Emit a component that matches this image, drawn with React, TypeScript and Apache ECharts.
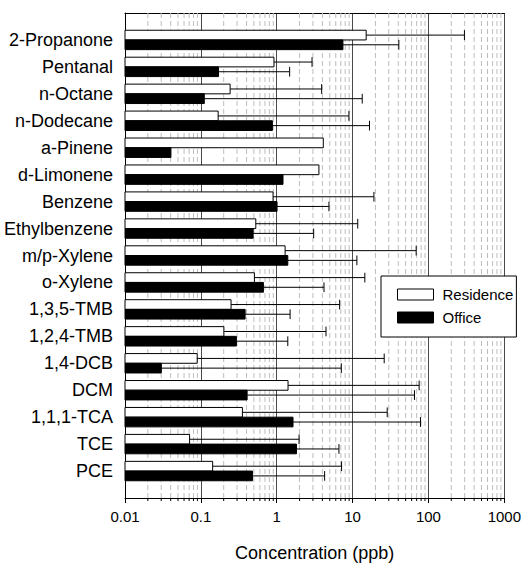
import React, { useEffect, useRef } from "react";
import * as echarts from "echarts";

const categories = [
  "2-Propanone", "Pentanal", "n-Octane", "n-Dodecane", "a-Pinene", "d-Limonene",
  "Benzene", "Ethylbenzene", "m/p-Xylene", "o-Xylene", "1,3,5-TMB", "1,2,4-TMB",
  "1,4-DCB", "DCM", "1,1,1-TCA", "TCE", "PCE",
];
const seriesNames = ["Residence", "Office"];
const residence = [15.1, 0.92, 0.243, 0.169, 4.11, 3.6, 0.895, 0.53, 1.29, 0.508, 0.25, 0.201, 0.0895, 1.41, 0.353, 0.071, 0.143];
const residenceUpper = [298, 2.92, 3.91, 8.95, null, null, 19.1, 11.7, 68.9, 14.5, 6.75, 4.46, 26.1, 75.4, 28.6, 1.97, 7.16];
const office = [7.46, 0.171, 0.111, 0.877, 0.0403, 1.21, 1.01, 0.489, 1.4, 0.668, 0.383, 0.294, 0.0301, 0.407, 1.64, 1.82, 0.479];
const officeUpper = [40.7, 1.48, 13.4, 16.7, null, null, 4.88, 3.07, 11.4, 4.2, 1.5, 1.4, 7.1, 65.4, 78.5, 6.61, 4.28];
const xTickValues = [0.01, 0.1, 1, 10, 100, 1000];
const xTickLabels = ["0.01", "0.1", "1", "10", "100", "1000"];
const minorSteps = [2, 3, 4, 5, 6, 7, 8, 9];
const xAxisTitle = "Concentration (ppb)";

const FONT = "'Liberation Sans', Arial, Helvetica, sans-serif";

export default function App() {
  const ref = useRef<HTMLDivElement>(null);

  useEffect(() => {
    document.body.style.margin = "0";
    if (!ref.current) return;
    const chart = echarts.init(ref.current, null, { renderer: "svg" });

    const yMin = -1;
    const yMax = categories.length;

    const minorValues: number[][] = [];
    for (let d = 0; d < xTickValues.length - 1; d++) {
      for (const m of minorSteps) minorValues.push([xTickValues[d] * m, 0]);
    }

    const barData = (vals: number[], ups: (number | null)[]) =>
      vals.map((v, i) => [i, v, ups[i] == null ? NaN : ups[i]]);

    const makeBarRender = (seriesIdx: number, fill: string) =>
      (params: any, api: any) => {
        const idx = api.value(0);
        const val = api.value(1);
        const up = api.value(2);
        const band = api.size([0, 1])[1];
        const h = band * 0.36;
        const c = api.coord([val, idx]);
        const s = api.coord([xTickValues[0], idx]);
        const cy = c[1] + (seriesIdx === 0 ? -h / 2 : h / 2);
        const children: any[] = [
          {
            type: "rect",
            shape: { x: s[0], y: cy - h / 2, width: c[0] - s[0], height: h },
            style: { fill, stroke: "#000", lineWidth: 1 },
          },
        ];
        if (!isNaN(up)) {
          const u = api.coord([up, idx]);
          children.push({
            type: "line",
            shape: { x1: c[0], y1: cy, x2: u[0], y2: cy },
            style: { stroke: "#000", lineWidth: 1 },
          });
          children.push({
            type: "line",
            shape: { x1: u[0], y1: cy - h / 2, x2: u[0], y2: cy + h / 2 },
            style: { stroke: "#000", lineWidth: 1 },
          });
        }
        return { type: "group", children };
      };

    const option: any = {
      animation: false,
      textStyle: { fontFamily: FONT, color: "#000" },
      grid: { left: 125, right: 19, top: 13, bottom: 62, containLabel: false },
      legend: {
        orient: "vertical",
        left: 381,
        top: 276,
        icon: "rect",
        itemWidth: 36,
        itemHeight: 11,
        itemGap: 8,
        padding: [11, 3, 12, 16],
        borderColor: "#000",
        borderWidth: 1,
        backgroundColor: "#fff",
        selectedMode: false,
        textStyle: { fontFamily: FONT, fontSize: 15, color: "#000", padding: [0, 0, 0, 4] },
        data: [
          { name: seriesNames[0], itemStyle: { color: "#fff", borderColor: "#000", borderWidth: 1 } },
          { name: seriesNames[1], itemStyle: { color: "#000", borderColor: "#000", borderWidth: 1 } },
        ],
      },
      xAxis: [
        {
          type: "log",
          logBase: 10,
          min: xTickValues[0],
          max: xTickValues[xTickValues.length - 1],
          name: xAxisTitle,
          nameLocation: "middle",
          nameGap: 46,
          nameTextStyle: { fontFamily: FONT, fontSize: 18, color: "#000" },
          axisLine: { show: true, onZero: false, lineStyle: { color: "#000", width: 1 } },
          axisTick: { show: true, length: 5, lineStyle: { color: "#000" } },
          axisLabel: {
            fontFamily: FONT,
            fontSize: 15,
            color: "#000",
            margin: 11,
            formatter: (v: number) => {
              let best = 0;
              for (let i = 0; i < xTickValues.length; i++) {
                if (Math.abs(Math.log10(v) - Math.log10(xTickValues[i])) < Math.abs(Math.log10(v) - Math.log10(xTickValues[best]))) best = i;
              }
              return xTickLabels[best];
            },
          },
          splitLine: { show: true, lineStyle: { color: "#4a4a4a", width: 1 } },
        },
        {
          type: "log",
          logBase: 10,
          position: "top",
          min: xTickValues[0],
          max: xTickValues[xTickValues.length - 1],
          axisLine: { show: true, onZero: false, lineStyle: { color: "#000", width: 1 } },
          axisTick: { show: false },
          axisLabel: { show: false },
          splitLine: { show: false },
        },
      ],
      yAxis: {
        type: "value",
        inverse: true,
        min: yMin,
        max: yMax,
        interval: 1,
        axisLine: { show: true, onZero: false, lineStyle: { color: "#000", width: 1 } },
        axisTick: { show: false },
        splitLine: { show: false },
        axisLabel: {
          fontFamily: FONT,
          fontSize: 18,
          color: "#000",
          margin: 12,
          padding: [0, 0, 4, 0],
          formatter: (v: number) => categories[Math.round(v)] ?? "",
        },
      },
      series: [
        {
          type: "custom",
          name: "minorGrid",
          silent: true,
          clip: false,
          z: 1,
          data: minorValues,
          encode: { x: 0, y: 1 },
          renderItem: (params: any, api: any) => {
            const v = api.value(0);
            const top = api.coord([v, yMin]);
            const bot = api.coord([v, yMax]);
            return {
              type: "group",
              children: [
                {
                  type: "line",
                  shape: { x1: top[0], y1: top[1], x2: bot[0], y2: bot[1] },
                  style: { stroke: "#bdbdbd", lineWidth: 1, lineDash: [5, 3] },
                },
                {
                  type: "line",
                  shape: { x1: bot[0], y1: bot[1], x2: bot[0], y2: bot[1] + 3 },
                  style: { stroke: "#000", lineWidth: 1 },
                },
              ],
            };
          },
        },
        {
          type: "custom",
          name: seriesNames[0],
          z: 3,
          itemStyle: { color: "#fff", borderColor: "#000", borderWidth: 1 },
          data: barData(residence, residenceUpper),
          encode: { x: 1, y: 0 },
          renderItem: makeBarRender(0, "#fff"),
        },
        {
          type: "custom",
          name: seriesNames[1],
          z: 3,
          itemStyle: { color: "#000", borderColor: "#000", borderWidth: 1 },
          data: barData(office, officeUpper),
          encode: { x: 1, y: 0 },
          renderItem: makeBarRender(1, "#000"),
        },
      ],
    };

    chart.setOption(option);
    return () => chart.dispose();
  }, []);

  return <div ref={ref} style={{ width: 524, height: 567 }} />;
}
